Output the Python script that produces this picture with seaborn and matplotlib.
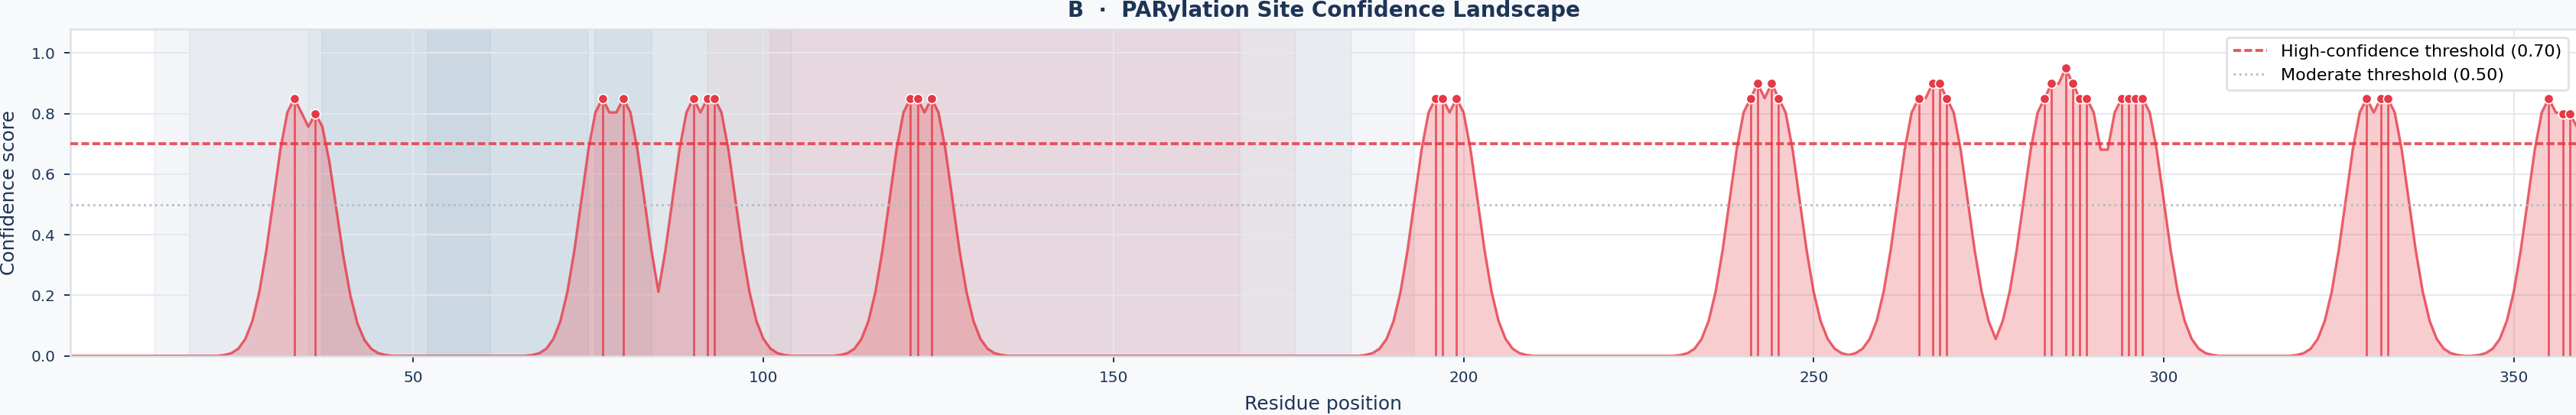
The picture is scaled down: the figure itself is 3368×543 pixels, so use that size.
"""
PARylation site confidence landscape (panel B).
"""

import numpy as np
import pandas as pd
import matplotlib

matplotlib.use("Agg")
import matplotlib.pyplot as plt
import seaborn as sns

# ---------------------------------------------------------------- data
seq_length = 359

# predicted sites (stem + marker)
site_positions = [33, 36, 77, 80, 90, 92, 93, 121, 122, 124, 196, 197, 199,
                  241, 242, 244, 245, 265, 267, 268, 269, 283, 284, 286, 287,
                  288, 289, 294, 295, 296, 297, 329, 331, 332, 355, 357, 358]
site_scores = [0.85, 0.80, 0.85, 0.85, 0.85, 0.85, 0.85, 0.85, 0.85, 0.85,
               0.85, 0.85, 0.85, 0.85, 0.90, 0.90, 0.85, 0.85, 0.90, 0.90,
               0.85, 0.85, 0.90, 0.95, 0.90, 0.85, 0.85, 0.85, 0.85, 0.85,
               0.85, 0.85, 0.85, 0.85, 0.85, 0.80, 0.80]

# smoothed per-residue confidence, stored as stretches (start residue + values)
# residues not covered by any stretch are 0
stretch_starts = [23, 67, 111, 186, 231, 255, 319, 345]
stretch_1 = [0.003, 0.009, 0.024, 0.056, 0.115, 0.212, 0.349, 0.516, 0.681, 0.804,
             0.85, 0.804, 0.757, 0.80, 0.757, 0.641, 0.485, 0.329, 0.200, 0.108,
             0.053, 0.023, 0.009, 0.003]
stretch_2 = [0.003, 0.009, 0.024, 0.056, 0.115, 0.212, 0.349, 0.516, 0.681, 0.804,
             0.85, 0.804, 0.804, 0.85, 0.804, 0.681, 0.516, 0.349, 0.212, 0.349,
             0.516, 0.681, 0.804, 0.85, 0.804, 0.85, 0.85, 0.804, 0.681, 0.516,
             0.349, 0.212, 0.115, 0.056, 0.024, 0.009, 0.003]
stretch_3 = [0.003, 0.009, 0.024, 0.056, 0.115, 0.212, 0.349, 0.516, 0.681, 0.804,
             0.85, 0.85, 0.804, 0.85, 0.804, 0.681, 0.516, 0.349, 0.212, 0.115,
             0.056, 0.024, 0.009, 0.003]
stretch_4 = [0.003, 0.009, 0.024, 0.056, 0.115, 0.212, 0.349, 0.516, 0.681, 0.804,
             0.85, 0.85, 0.804, 0.85, 0.804, 0.681, 0.516, 0.349, 0.212, 0.115,
             0.056, 0.024, 0.009, 0.003]
stretch_5 = [0.003, 0.009, 0.024, 0.056, 0.115, 0.212, 0.349, 0.516, 0.681, 0.804,
             0.851, 0.90, 0.851, 0.90, 0.851, 0.804, 0.681, 0.516, 0.349, 0.212,
             0.115, 0.056, 0.024, 0.009]
stretch_6 = [0.003, 0.009, 0.024, 0.056, 0.115, 0.212, 0.349, 0.516, 0.681, 0.804,
             0.85, 0.851, 0.90, 0.90, 0.851, 0.804, 0.681, 0.516, 0.349, 0.212,
             0.115, 0.056, 0.115, 0.212, 0.349, 0.516, 0.681, 0.804, 0.851, 0.90,
             0.899, 0.95, 0.90, 0.851, 0.85, 0.804, 0.681, 0.681, 0.804, 0.85,
             0.85, 0.85, 0.85, 0.804, 0.681, 0.516, 0.349, 0.212, 0.115, 0.056,
             0.024, 0.009, 0.003]
stretch_7 = [0.003, 0.009, 0.024, 0.056, 0.115, 0.212, 0.349, 0.516, 0.681, 0.804,
             0.85, 0.804, 0.85, 0.85, 0.804, 0.681, 0.516, 0.349, 0.212, 0.115,
             0.056, 0.024, 0.009, 0.003]
stretch_8 = [0.003, 0.009, 0.024, 0.056, 0.115, 0.212, 0.349, 0.516, 0.681, 0.804,
             0.85, 0.804, 0.80, 0.80, 0.757]
stretch_values = [stretch_1, stretch_2, stretch_3, stretch_4,
                  stretch_5, stretch_6, stretch_7, stretch_8]

# annotated regions (shaded background)
region_starts = [13, 18, 35, 37, 52, 76, 92, 101]
region_ends = [193, 184, 104, 75, 61, 84, 176, 168]
region_kinds = ["outer", "outer", "zf_region", "zf", "zf", "zf", "lc", "lc"]

high_thr = 0.70
mod_thr = 0.50

# ---------------------------------------------------------------- style
NAVY = "#1d3557"
RED = "#e63946"
kind_style = {
    "outer": ("#5b7f9c", 0.07),
    "zf_region": ("#3a7ca5", 0.045),
    "zf": ("#5a8ca6", 0.08),
    "lc": (RED, 0.055),
}

sns.set_theme(style="whitegrid")
plt.rcParams["font.family"] = ["DejaVu Sans"]

# ---------------------------------------------------------------- build table
residues = np.arange(1, seq_length + 1)
conf = np.zeros(seq_length)
for start, vals in zip(stretch_starts, stretch_values):
    conf[start - 1:start - 1 + len(vals)] = vals
df = pd.DataFrame({"residue": residues, "confidence": conf})
sites = pd.DataFrame({"residue": site_positions, "confidence": site_scores})

# ---------------------------------------------------------------- plot
fig, ax = plt.subplots(figsize=(16.84, 2.715), dpi=200)
fig.patch.set_facecolor("#f7f9fb")
ax.set_facecolor("white")
fig.subplots_adjust(left=0.0273, right=1.0003, bottom=0.1424, top=0.9306)

for s, e, k in zip(region_starts, region_ends, region_kinds):
    c, a = kind_style[k]
    ax.axvspan(s, e, color=c, alpha=a, lw=0.8, zorder=0)

ax.fill_between(df["residue"], df["confidence"], color=RED, alpha=0.25,
                lw=0, zorder=1)
sns.lineplot(data=df, x="residue", y="confidence", color=RED, alpha=0.8,
             lw=1.2, ax=ax, zorder=2)

h1 = ax.axhline(high_thr, color=RED, ls=(0, (2.6, 1.1)), lw=1.4, alpha=0.85,
                zorder=3, label=f"High-confidence threshold ({high_thr:.2f})")
h2 = ax.axhline(mod_thr, color="#b5bac3", ls=":", lw=1.0, zorder=3,
                label=f"Moderate threshold ({mod_thr:.2f})")

ax.vlines(sites["residue"], 0, sites["confidence"], color=RED, alpha=0.8,
          lw=1.0, zorder=3)
sns.scatterplot(data=sites, x="residue", y="confidence", s=20, color=RED,
                edgecolor="white", linewidth=0.6, ax=ax, zorder=5, legend=False)

ax.set_xlim(1, seq_length)
ax.set_ylim(0, 1.08)
ax.set_yticks([0.0, 0.2, 0.4, 0.6, 0.8, 1.0])
ax.set_xticks([50, 100, 150, 200, 250, 300, 350])

ax.grid(True, color="#e5e8ed", lw=0.7)
ax.set_axisbelow(True)
for sp in ax.spines.values():
    sp.set_color("#dde1e8")
    sp.set_linewidth(0.9)
ax.tick_params(axis="both", bottom=True, left=True, length=3, width=0.7,
               color=NAVY, labelsize=7.2, labelcolor=NAVY, pad=4)

ax.set_xlabel("Residue position", fontsize=9, color=NAVY, labelpad=4.5)
ax.set_ylabel("Confidence score", fontsize=9, color=NAVY, labelpad=6)
ax.set_title("B  ·  PARylation Site Confidence Landscape", fontsize=10,
             fontweight="bold", color=NAVY, pad=5.5)

leg = ax.legend(handles=[h1, h2], loc="upper right", fontsize=8, frameon=True,
                facecolor="white", edgecolor="#dde1e8", framealpha=1.0)
leg.get_frame().set_linewidth(1.0)
for t in leg.get_texts():
    t.set_color("black")

fig.savefig("out.png", dpi=200, facecolor=fig.get_facecolor())
print("Saved: out.png")
